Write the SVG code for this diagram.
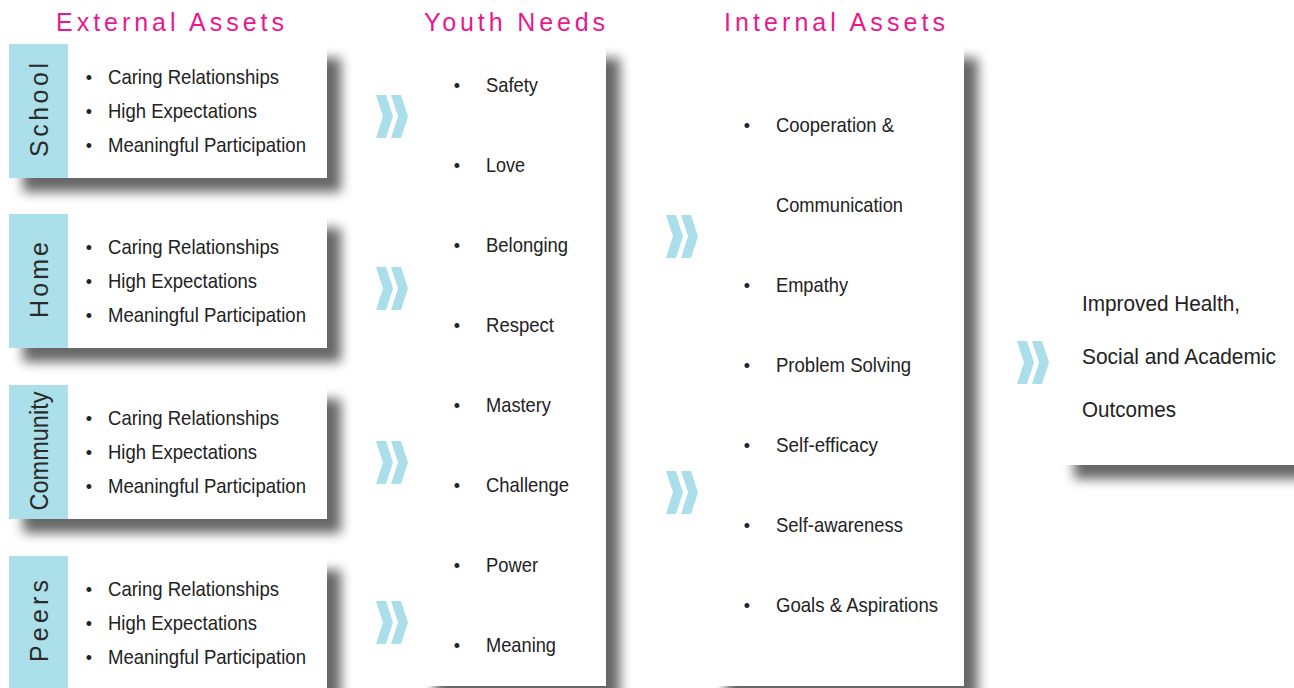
<svg xmlns="http://www.w3.org/2000/svg" width="1294" height="688" viewBox="0 0 1294 688">
<defs>
<filter id="sh" x="-20%" y="-20%" width="150%" height="150%">
<feGaussianBlur in="SourceAlpha" stdDeviation="6"/>
<feOffset dx="14" dy="14" result="b"/>
<feComponentTransfer><feFuncA type="linear" slope="0.6"/></feComponentTransfer>
<feMerge><feMergeNode/><feMergeNode in="SourceGraphic"/></feMerge>
</filter>
<path id="chev" d="M0,0 L10,0 L17,21.5 L10,43 L0,43 L7,21.5 Z M15,0 L25,0 L32,21.5 L25,43 L15,43 L22,21.5 Z"/>
</defs>
<style>
.title{font-family:"Liberation Sans",Arial,sans-serif;font-size:25px;fill:#ec178c}
.t{font-family:"Liberation Sans",Arial,sans-serif;font-size:21px;fill:#222}
.b{font-family:"Liberation Sans",Arial,sans-serif;font-size:18px;fill:#222;text-anchor:middle}
.v{font-family:"Liberation Sans",Arial,sans-serif;font-size:25px;fill:#2a2a2a;text-anchor:middle}
.panel{fill:#abdfe9}
.box{fill:#fff}
.chev{fill:#aadfea}
</style>
<rect width="1294" height="688" fill="#fff"/>

<g id="titles">
<text class="title" x="56" y="31" textLength="228" lengthAdjust="spacing">External Assets</text>
<text class="title" x="424" y="31" textLength="181" lengthAdjust="spacing">Youth Needs</text>
<text class="title" x="724" y="31" textLength="221" lengthAdjust="spacing">Internal Assets</text>
</g>

<g id="school">
<g filter="url(#sh)"><rect class="box" x="9" y="44" width="318" height="134"/></g>
<rect class="panel" x="9" y="44" width="59" height="134"/>
<text class="v" transform="translate(48,110) rotate(-90)" textLength="94" lengthAdjust="spacing">School</text>
<text class="b" x="89" y="84">•</text><text class="t" x="108" y="84" textLength="171" lengthAdjust="spacingAndGlyphs">Caring Relationships</text>
<text class="b" x="89" y="118">•</text><text class="t" x="108" y="118" textLength="149" lengthAdjust="spacingAndGlyphs">High Expectations</text>
<text class="b" x="89" y="152">•</text><text class="t" x="108" y="152" textLength="198" lengthAdjust="spacingAndGlyphs">Meaningful Participation</text>
</g>

<g id="home">
<g filter="url(#sh)"><rect class="box" x="9" y="214" width="318" height="134"/></g>
<rect class="panel" x="9" y="214" width="59" height="134"/>
<text class="v" transform="translate(48,280) rotate(-90)" textLength="76" lengthAdjust="spacing">Home</text>
<text class="b" x="89" y="254">•</text><text class="t" x="108" y="254" textLength="171" lengthAdjust="spacingAndGlyphs">Caring Relationships</text>
<text class="b" x="89" y="288">•</text><text class="t" x="108" y="288" textLength="149" lengthAdjust="spacingAndGlyphs">High Expectations</text>
<text class="b" x="89" y="322">•</text><text class="t" x="108" y="322" textLength="198" lengthAdjust="spacingAndGlyphs">Meaningful Participation</text>
</g>

<g id="community">
<g filter="url(#sh)"><rect class="box" x="9" y="385" width="318" height="134"/></g>
<rect class="panel" x="9" y="385" width="59" height="134"/>
<text class="v" transform="translate(48,451) rotate(-90)" textLength="119" lengthAdjust="spacingAndGlyphs">Community</text>
<text class="b" x="89" y="425">•</text><text class="t" x="108" y="425" textLength="171" lengthAdjust="spacingAndGlyphs">Caring Relationships</text>
<text class="b" x="89" y="459">•</text><text class="t" x="108" y="459" textLength="149" lengthAdjust="spacingAndGlyphs">High Expectations</text>
<text class="b" x="89" y="493">•</text><text class="t" x="108" y="493" textLength="198" lengthAdjust="spacingAndGlyphs">Meaningful Participation</text>
</g>

<g id="peers">
<g filter="url(#sh)"><rect class="box" x="9" y="556" width="318" height="140"/></g>
<rect class="panel" x="9" y="556" width="59" height="140"/>
<text class="v" transform="translate(48,621) rotate(-90)" textLength="82" lengthAdjust="spacing">Peers</text>
<text class="b" x="89" y="596">•</text><text class="t" x="108" y="596" textLength="171" lengthAdjust="spacingAndGlyphs">Caring Relationships</text>
<text class="b" x="89" y="630">•</text><text class="t" x="108" y="630" textLength="149" lengthAdjust="spacingAndGlyphs">High Expectations</text>
<text class="b" x="89" y="664">•</text><text class="t" x="108" y="664" textLength="198" lengthAdjust="spacingAndGlyphs">Meaningful Participation</text>
</g>

<g id="youth-needs">
<g filter="url(#sh)"><rect class="box" x="421" y="44" width="185" height="642"/></g>
<text class="b" x="457" y="92">•</text><text class="t" x="486" y="92" textLength="52" lengthAdjust="spacingAndGlyphs">Safety</text>
<text class="b" x="457" y="172">•</text><text class="t" x="486" y="172" textLength="39" lengthAdjust="spacingAndGlyphs">Love</text>
<text class="b" x="457" y="252">•</text><text class="t" x="486" y="252" textLength="82" lengthAdjust="spacingAndGlyphs">Belonging</text>
<text class="b" x="457" y="332">•</text><text class="t" x="486" y="332" textLength="68" lengthAdjust="spacingAndGlyphs">Respect</text>
<text class="b" x="457" y="412">•</text><text class="t" x="486" y="412" textLength="65" lengthAdjust="spacingAndGlyphs">Mastery</text>
<text class="b" x="457" y="492">•</text><text class="t" x="486" y="492" textLength="83" lengthAdjust="spacingAndGlyphs">Challenge</text>
<text class="b" x="457" y="572">•</text><text class="t" x="486" y="572" textLength="52" lengthAdjust="spacingAndGlyphs">Power</text>
<text class="b" x="457" y="652">•</text><text class="t" x="486" y="652" textLength="70" lengthAdjust="spacingAndGlyphs">Meaning</text>
</g>

<g id="internal-assets">
<g filter="url(#sh)"><rect class="box" x="712" y="44" width="252" height="642"/></g>
<text class="b" x="747" y="132">•</text><text class="t" x="776" y="132" textLength="118" lengthAdjust="spacingAndGlyphs">Cooperation &amp;</text>
<text class="t" x="776" y="212" textLength="127" lengthAdjust="spacingAndGlyphs">Communication</text>
<text class="b" x="747" y="292">•</text><text class="t" x="776" y="292" textLength="72" lengthAdjust="spacingAndGlyphs">Empathy</text>
<text class="b" x="747" y="372">•</text><text class="t" x="776" y="372" textLength="135" lengthAdjust="spacingAndGlyphs">Problem Solving</text>
<text class="b" x="747" y="452">•</text><text class="t" x="776" y="452" textLength="102" lengthAdjust="spacingAndGlyphs">Self-efficacy</text>
<text class="b" x="747" y="532">•</text><text class="t" x="776" y="532" textLength="127" lengthAdjust="spacingAndGlyphs">Self-awareness</text>
<text class="b" x="747" y="612">•</text><text class="t" x="776" y="612" textLength="162" lengthAdjust="spacingAndGlyphs">Goals &amp; Aspirations</text>
</g>

<g id="outcomes">
<g filter="url(#sh)"><rect class="box" x="1060" y="262" width="260" height="203"/></g>
<text class="t" x="1082" y="311" style="font-size:22px" textLength="158" lengthAdjust="spacingAndGlyphs">Improved Health,</text>
<text class="t" x="1082" y="364" style="font-size:22px" textLength="194" lengthAdjust="spacingAndGlyphs">Social and Academic</text>
<text class="t" x="1082" y="417" style="font-size:22px" textLength="94" lengthAdjust="spacingAndGlyphs">Outcomes</text>
</g>

<g id="connectors" class="chev">
<use href="#chev" x="376" y="95"/>
<use href="#chev" x="376" y="267"/>
<use href="#chev" x="376" y="441"/>
<use href="#chev" x="376" y="601"/>
<use href="#chev" x="666" y="215"/>
<use href="#chev" x="666" y="471"/>
<use href="#chev" x="1017" y="341"/>
</g>
</svg>
